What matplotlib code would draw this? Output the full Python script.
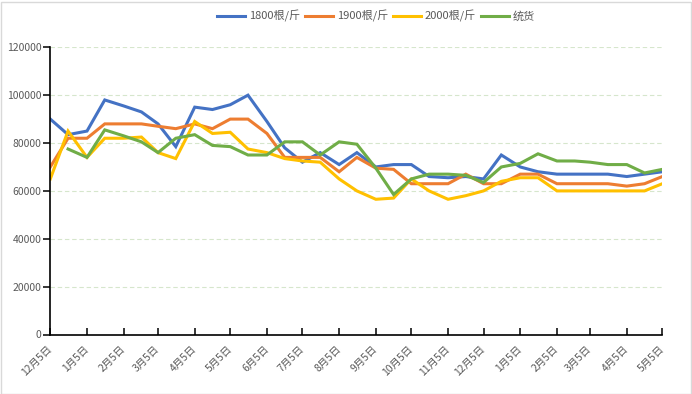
import matplotlib
matplotlib.use("Agg")
import matplotlib.pyplot as plt
import numpy as np
import pandas as pd
from matplotlib.patches import Rectangle

plt.rcParams['font.family'] = ['Noto Sans CJK SC', 'DejaVu Sans']

dates = ["2019-12-05", "2019-12-20", "2020-01-05", "2020-01-20", "2020-02-05", "2020-02-20",
         "2020-03-05", "2020-03-20", "2020-04-05", "2020-04-20", "2020-05-05", "2020-05-20",
         "2020-06-05", "2020-06-20", "2020-07-05", "2020-07-20", "2020-08-05", "2020-08-20",
         "2020-09-05", "2020-09-20", "2020-10-05", "2020-10-20", "2020-11-05", "2020-11-20",
         "2020-12-05", "2020-12-20", "2021-01-05", "2021-01-20", "2021-02-05", "2021-02-20",
         "2021-03-05", "2021-03-20", "2021-04-05", "2021-04-20", "2021-05-05"]

s1800 = [90000, 83500, 85000, 98000, 95500, 93000, 88000, 78500, 95000, 94000, 96000, 100000,
         89000, 78000, 72000, 76000, 71000, 76000, 70000, 71000, 71000, 66000, 65500, 66000,
         65000, 75000, 70000, 68000, 67000, 67000, 67000, 67000, 66000, 67000, 68000]
s1900 = [70000, 82000, 82000, 88000, 88000, 88000, 87000, 86000, 88000, 86000, 90000, 90000,
         84000, 74000, 74000, 74000, 68000, 74000, 69500, 69000, 63000, 63000, 63000, 67000,
         63000, 63000, 67000, 67000, 63000, 63000, 63000, 63000, 62000, 63000, 66000]
s2000 = [65000, 85000, 74000, 82000, 82000, 82500, 76000, 73500, 89000, 84000, 84500, 77500,
         76000, 73500, 72500, 72000, 65000, 60000, 56500, 57000, 65000, 60000, 56500, 58000,
         60000, 64000, 65500, 65500, 60000, 60000, 60000, 60000, 60000, 60000, 63000]
tonghuo = [np.nan, 77500, 74000, 85500, 83000, 80500, 76000, 82000, 83500, 79000, 78500, 75000,
           75000, 80500, 80500, 75000, 80500, 79500, 69500, 58500, 65000, 67000, 67000, 66500,
           63500, 70000, 71500, 75500, 72500, 72500, 72000, 71000, 71000, 67500, 69000]

series_names = ["1800根/斤", "1900根/斤", "2000根/斤", "统货"]
colors = ["#4472C4", "#ED7D31", "#FFC000", "#70AD47"]

tick_dates = ["2019-12-05", "2020-01-05", "2020-02-05", "2020-03-05", "2020-04-05", "2020-05-05",
              "2020-06-05", "2020-07-05", "2020-08-05", "2020-09-05", "2020-10-05", "2020-11-05",
              "2020-12-05", "2021-01-05", "2021-02-05", "2021-03-05", "2021-04-05", "2021-05-05"]
tick_labels = ["12月5日", "1月5日", "2月5日", "3月5日", "4月5日", "5月5日", "6月5日", "7月5日",
               "8月5日", "9月5日", "10月5日", "11月5日", "12月5日", "1月5日", "2月5日", "3月5日",
               "4月5日", "5月5日"]
y_ticks = [0, 20000, 40000, 60000, 80000, 100000, 120000]

x = pd.to_datetime(dates)
xt = pd.to_datetime(tick_dates)

fig = plt.figure(figsize=(6.92, 3.94), dpi=100)
ax = fig.add_axes([50.3/692, (394-334.5)/394, 612/692, 287.2/394])

for data, name, c in zip([s1800, s1900, s2000, tonghuo], series_names, colors):
    ax.plot(x, data, color=c, lw=2.2, label=name, solid_joinstyle='miter')

ax.set_xlim(xt[0], xt[-1])
ax.set_ylim(0, 120000)
ax.set_yticks(y_ticks)
ax.set_yticklabels([str(v) for v in y_ticks])
ax.set_xticks(xt)
ax.set_xticklabels(tick_labels, rotation=45, ha='right', va='center', rotation_mode='anchor')

for v in y_ticks[1:]:
    ax.axhline(v, color='#d6e6cc', lw=0.8, ls=(0, (4, 2.5)), zorder=0)

for s in ['top', 'right']:
    ax.spines[s].set_visible(False)
for s in ['left', 'bottom']:
    ax.spines[s].set_color('black')
    ax.spines[s].set_linewidth(1.2)

ax.tick_params(axis='x', direction='in', length=5, width=1.1, color='black',
               labelsize=7.5, labelcolor='#595959', pad=9)
ax.tick_params(axis='y', direction='out', length=5, width=1.1, color='black',
               labelsize=7.5, labelcolor='#595959', pad=1.5)

leg = fig.legend(loc='center', bbox_to_anchor=(376/692, 1 - 16/394), ncol=4, frameon=False,
                 fontsize=8, handlelength=2.5, handletextpad=0.35, columnspacing=0.45,
                 labelcolor='#595959')

fig.patches.append(Rectangle((0.5/692, 0.5/394), 1 - 2/692, 1 - 2/394, transform=fig.transFigure,
                             fill=False, edgecolor='#d9d9d9', lw=1.0))

fig.savefig("out.png", dpi=100)
